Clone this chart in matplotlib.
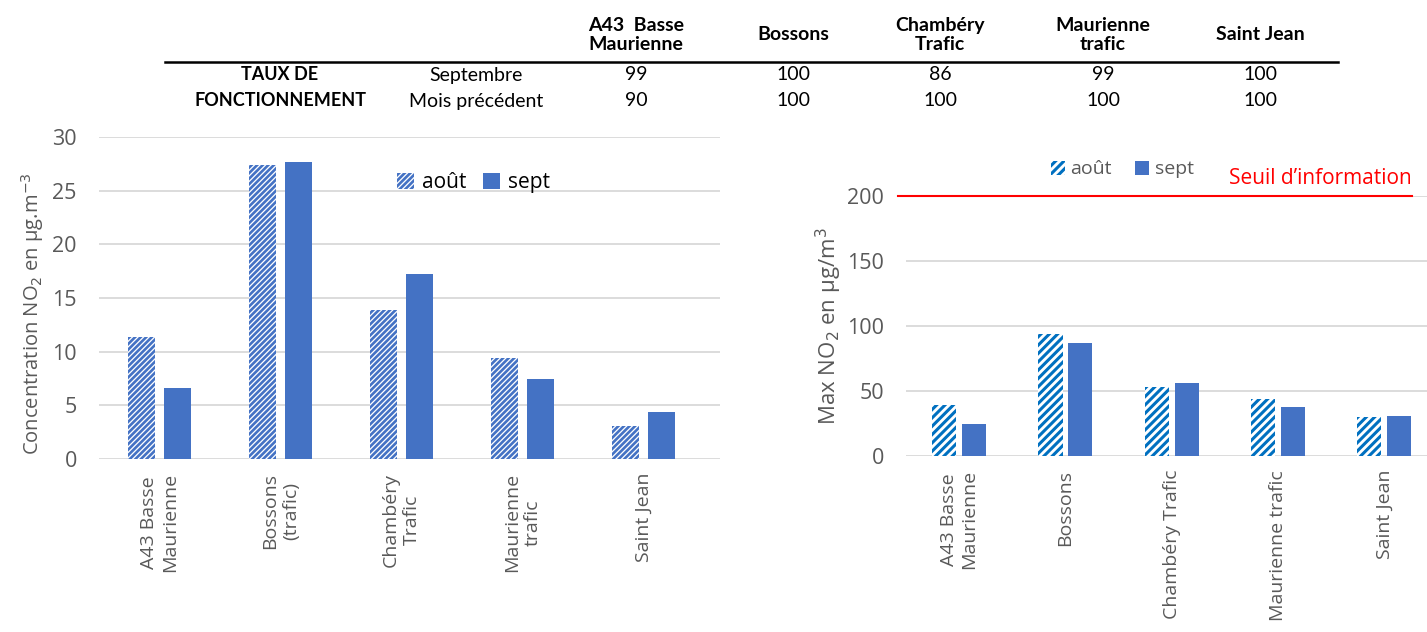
import numpy as np
import matplotlib.pyplot as plt

# ============== données ==============
stations_tab = ["A43  Basse\nMaurienne", "Bossons", "Chambéry\nTrafic", "Maurienne\ntrafic", "Saint Jean"]
taux_sept = [99, 100, 86, 99, 100]
taux_prec = [90, 100, 100, 100, 100]

labels_moy = ["A43 Basse\nMaurienne", "Bossons\n(trafic)", "Chambéry\nTrafic", "Maurienne\ntrafic", "Saint Jean"]
moy_aout = [11.4, 27.4, 13.9, 9.4, 3.1]
moy_sept = [6.6, 27.7, 17.2, 7.5, 4.4]

labels_max = ["A43 Basse\nMaurienne", "Bossons", "Chambéry Trafic", "Maurienne trafic", "Saint Jean"]
max_aout = [39, 94, 53, 44, 30]
max_sept = [25, 87, 56, 38, 31]
seuil_info = 200

BLEU = "#4472C4"
BLEU2 = "#0070C0"
GRIS = "#595959"
GRILLE = "#D9D9D9"
AX_FONT = "Open Sans"
TAB_FONT = "Lato"

fig = plt.figure(figsize=(14.27, 6.32), dpi=100)


def hatch_bar(ax, x, h, w, color, hatch, hlw):
    plt.rcParams["hatch.linewidth"] = hlw
    bars = ax.bar(x, h, w, facecolor="white", edgecolor=color, linewidth=0, hatch=hatch, zorder=3)
    for b in bars:
        if hasattr(b, "set_hatch_linewidth"):
            b.set_hatch_linewidth(hlw)
    return bars


def style_axes(ax, yticks):
    for s in ax.spines.values():
        s.set_visible(False)
    ax.set_yticks(yticks)
    ax.yaxis.grid(True, color=GRILLE, linewidth=1.3, zorder=0)
    ax.tick_params(axis="both", length=0, labelcolor=GRIS)
    ax.tick_params(axis="y", labelsize=15.5, pad=16)
    for lab in ax.get_yticklabels():
        lab.set_fontfamily(AX_FONT)


# ============== tableau du haut ==============
col_x = [636, 793, 940, 1103, 1260]
W, H = 1427, 632
for cx, name in zip(col_x, stations_tab):
    fig.text(cx / W, 1 - 35 / H, name, ha="center", va="center", fontsize=14,
             fontweight="bold", family=TAB_FONT, linespacing=1.2)
fig.add_artist(plt.Line2D([165 / W, 1338 / W], [1 - 62 / H] * 2, color="black", lw=1.8))
fig.text(280 / W, 1 - 75 / H, "TAUX DE", ha="center", va="center", fontsize=13, fontweight="bold", family=TAB_FONT)
fig.text(280 / W, 1 - 101 / H, "FONCTIONNEMENT", ha="center", va="center", fontsize=13, fontweight="bold", family=TAB_FONT)
fig.text(476 / W, 1 - 75 / H, "Septembre", ha="center", va="center", fontsize=14, family=TAB_FONT)
fig.text(476 / W, 1 - 101 / H, "Mois précédent", ha="center", va="center", fontsize=14, family=TAB_FONT)
for cx, a, b in zip(col_x, taux_sept, taux_prec):
    fig.text(cx / W, 1 - 75 / H, str(a), ha="center", va="center", fontsize=14, family=TAB_FONT)
    fig.text(cx / W, 1 - 101 / H, str(b), ha="center", va="center", fontsize=14, family=TAB_FONT)

# ============== graphique gauche : moyennes ==============
ax1 = fig.add_axes([99 / W, 1 - 459 / H, 621 / W, 322 / H])
x = np.arange(len(labels_moy))
h1 = hatch_bar(ax1, x - 0.147, moy_aout, 0.223, BLEU, "//////", 1.9)
s1 = ax1.bar(x + 0.147, moy_sept, 0.223, color=BLEU, zorder=3)
ax1.set_xlim(-0.5, 4.63)
ax1.set_ylim(0, 30)
style_axes(ax1, np.arange(0, 31, 5))
ax1.set_xticks(x)
ax1.set_xticklabels(labels_moy, rotation=90, family=AX_FONT, fontsize=14, color=GRIS,
                    multialignment="center", linespacing=1.2)
ax1.tick_params(axis="x", pad=10)
ax1.set_ylabel("Concentration NO$_2$ en µg.m$^{-3}$", fontsize=14.5, color=GRIS, family=AX_FONT)
ax1.yaxis.set_label_coords(-0.086, 0.45)
leg1 = ax1.legend([h1, s1], ["août", "sept"], loc="upper left", bbox_to_anchor=(0.45, 0.95),
                  ncol=2, frameon=False, prop={"family": AX_FONT, "size": 15},
                  handlelength=0.8, handleheight=0.8, handletextpad=0.4, columnspacing=0.8)

# ============== graphique droit : maxima ==============
ax2 = fig.add_axes([906 / W, 1 - 456 / H, 521 / W, 260 / H])
h2 = hatch_bar(ax2, x - 0.141, max_aout, 0.226, BLEU2, "////", 2.2)
s2 = ax2.bar(x + 0.141, max_sept, 0.226, color=BLEU, zorder=3)
ax2.set_xlim(-0.5, 4.40)
ax2.set_ylim(0, 200)
style_axes(ax2, np.arange(0, 201, 50))
ax2.set_xticks(x)
ax2.set_xticklabels(labels_max, rotation=90, family=AX_FONT, fontsize=14, color=GRIS,
                    multialignment="center", linespacing=1.2)
ax2.tick_params(axis="x", pad=10)
ax2.set_ylabel("Max NO$_2$ en µg/m$^3$", fontsize=16, color=GRIS, family=AX_FONT, labelpad=2)
ax2.axhline(seuil_info, xmin=-0.015, xmax=0.971, color="red", lw=1.5, zorder=4, clip_on=False)
ax2.text(0.795, seuil_info + 5, "Seuil d\u2019information", color="red", fontsize=15, family=AX_FONT,
         ha="center", va="bottom", transform=ax2.get_yaxis_transform())
leg2 = ax2.legend([h2, s2], ["août", "sept"], loc="lower left", bbox_to_anchor=(0.245, 1.0),
                  ncol=2, frameon=False, prop={"family": AX_FONT, "size": 14},
                  handlelength=0.7, handleheight=0.7, handletextpad=0.3, columnspacing=1.2)
for t in leg2.get_texts():
    t.set_color(GRIS)

fig.savefig("out.png", dpi=100)
